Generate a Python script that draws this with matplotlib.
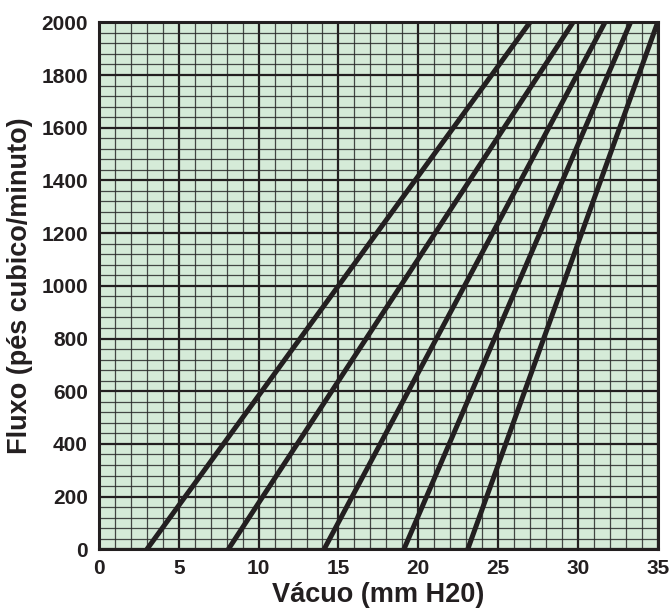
import matplotlib
matplotlib.use("Agg")
import matplotlib.pyplot as plt
import numpy as np

plt.rcParams['font.family'] = ['Liberation Sans', 'DejaVu Sans']

# Data: each curve is a straight line from (x_start, 0) to (x_end, 2000)
flow = [0, 2000]
x_start = [3.0, 8.1, 14.1, 19.1, 23.1]
x_end = [27.0, 29.7, 31.7, 33.3, 35.0]

x_ticks = [0, 5, 10, 15, 20, 25, 30, 35]
y_ticks = [0, 200, 400, 600, 800, 1000, 1200, 1400, 1600, 1800, 2000]

fig = plt.figure(figsize=(6.72, 6.08), dpi=100)
ax = fig.add_axes([0.1473, 0.0965, 0.8314, 0.8668])
ax.set_facecolor('#d5ebd8')

ax.set_xlim(0, 35)
ax.set_ylim(0, 2000)

# grid
ax.set_xticks(x_ticks)
ax.set_yticks(y_ticks)
ax.set_xticks(np.arange(0, 36, 1), minor=True)
ax.set_yticks(np.arange(0, 2001, 40), minor=True)
ax.grid(which='minor', color='#2a2a2a', linewidth=0.9, alpha=0.85)
ax.grid(which='major', color='#231f20', linewidth=1.6)
ax.set_axisbelow(True)

for xs, xe in zip(x_start, x_end):
    ax.plot([xs, xe], flow, color='#231f20', linewidth=3.6, solid_capstyle='butt',
            clip_on=True, zorder=3)

for s in ax.spines.values():
    s.set_linewidth(2.2)
    s.set_color('#231f20')
    s.set_zorder(4)

ax.tick_params(which='both', length=0)
ax.tick_params(axis='x', pad=7, labelsize=15)
ax.tick_params(axis='y', pad=8, labelsize=15)
for lab in ax.get_xticklabels() + ax.get_yticklabels():
    lab.set_fontweight('bold')
    lab.set_color('#231f20')

ax.set_xlabel('Vácuo (mm H20)', fontsize=19.5, fontweight='bold', color='#231f20', labelpad=3)
ax.set_ylabel('Fluxo (pés cubico/minuto)', fontsize=19.5, fontweight='bold', color='#231f20', labelpad=6)

fig.savefig('out.png', dpi=100)
